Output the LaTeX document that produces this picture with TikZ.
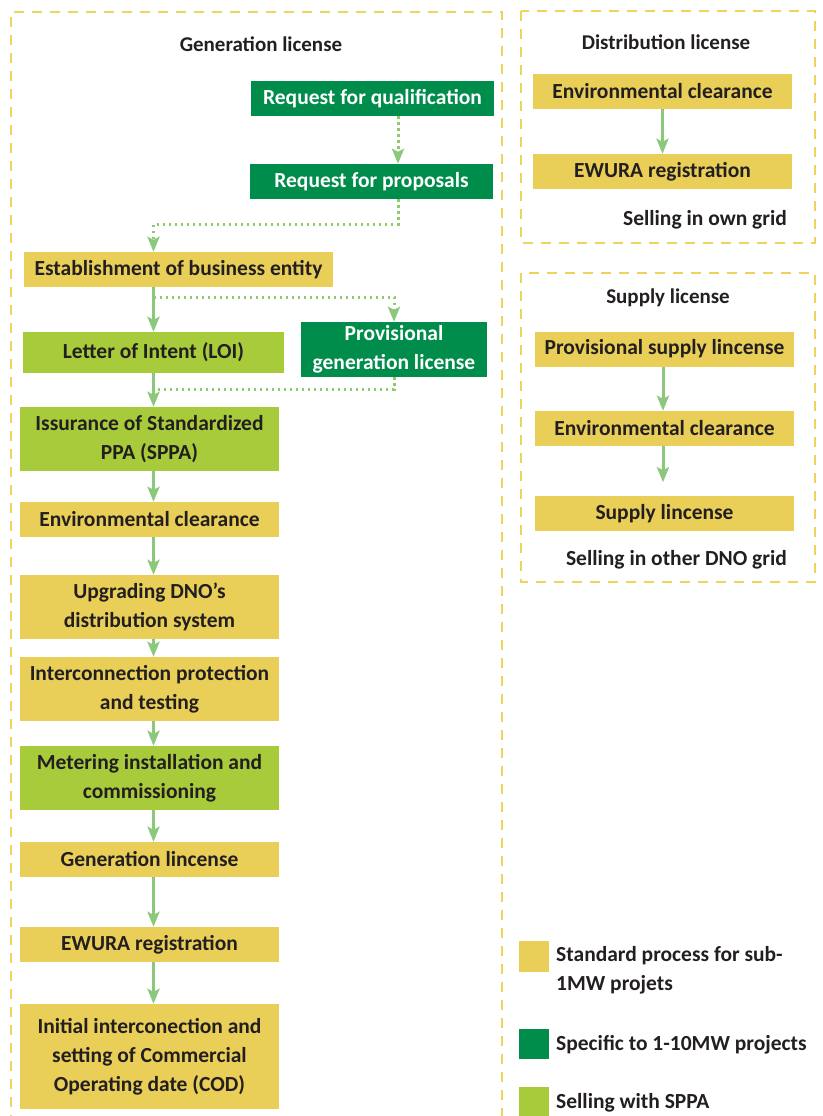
\documentclass[tikz,border=0pt]{standalone}
\usepackage{fontspec}
\setmainfont{Carlito}
\usetikzlibrary{arrows.meta,positioning}

\definecolor{ylw}{HTML}{E9CF58}
\definecolor{dgrn}{HTML}{008D4C}
\definecolor{lgrn}{HTML}{A8CB3B}
\definecolor{arr}{HTML}{8CC87C}
\definecolor{dots}{HTML}{8FCB6A}
\definecolor{brd}{HTML}{EED45E}
\definecolor{ink}{HTML}{231F20}

\begin{document}
\begin{tikzpicture}[x=1pt,y=-1pt,
    box/.style={minimum width=259pt, minimum height=35pt, inner sep=0pt, align=center,
      font=\fontsize{21.5}{29}\selectfont\bfseries, text=ink},
    ybox/.style={box, fill=ylw},
    dgbox/.style={box, fill=dgrn, text=white},
    lgbox/.style={box, fill=lgrn},
    ttl/.style={inner sep=0pt, anchor=base, text=ink, font=\fontsize{21}{24}\selectfont\bfseries},
    note/.style={inner sep=0pt, text=ink, align=left, font=\fontsize{21.5}{29}\selectfont\bfseries},
    flow/.style={arr, line width=3pt, -{Stealth[length=15pt, width=12pt, inset=3pt]}},
    opt/.style={dots, line width=3pt, dash pattern=on 2.5pt off 3.5pt},
    optarr/.style={opt, -{Stealth[length=15pt, width=12pt, inset=3pt, color=arr]}},
    frame/.style={brd, line width=2.5pt, dash pattern=on 10pt off 8pt}
  ]
  \useasboundingbox (0,0) rectangle (822,1116);

  % Rahmen
  \draw[frame] (11,1125) -- (11,12) -- (502,12) -- (502,1125);
  \draw[frame] (521,11) rectangle (815,243);
  \draw[frame] (521,273) rectangle (815,582);

  % Generation license
  \node[ttl] (gentitle) at (261,52) {Generation license};
  \node[dgbox, minimum width=243pt] (rfq) at (372.5,98.5) {Request for qualification};
  \node[dgbox, minimum width=243pt] (rfp) at (371.5,181.5) {Request for proposals};
  \node[ybox, minimum width=309pt] (estab) at (178.5,269.5) {Establishment of business entity};
  \node[lgbox, minimum width=261pt, minimum height=41pt] (loi) at (153.5,352.5) {Letter of Intent (LOI)};
  \node[dgbox, minimum width=186pt, minimum height=55pt] (provgen) at (394,349.5) {Provisional\\generation license};
  \node[lgbox, minimum height=64pt] (sppa) at (149.5,439) {Issurance of Standardized\\PPA (SPPA)};
  \node[ybox] (envgen) at (149.5,519.5) {Environmental clearance};
  \node[ybox, minimum height=64pt] (upgrade) at (149.5,607) {Upgrading DNO{\char"0027}s\\distribution system};
  \node[ybox, minimum height=64pt] (intercon) at (149.5,689) {Interconnection protection\\and testing};
  \node[lgbox, minimum height=64pt] (meter) at (149.5,778) {Metering installation and\\commissioning};
  \node[ybox] (genlic) at (149.5,859.5) {Generation lincense};
  \node[ybox] (ewura) at (149.5,944.5) {EWURA registration};
  \node[ybox, minimum height=105pt] (cod) at (149.5,1056.5) {Initial interconection and\\setting of Commercial\\Operating date (COD)};

  % optionale Schritte (gepunktet)
  \coordinate (tap) at (398,0);
  \draw[optarr] (rfq.south -| tap) -- (rfp.north -| tap);
  \draw[optarr] (rfp.south -| tap) -- ++(0,25) -| (estab.north -| loi.north);
  \draw[optarr] (estab.south -| loi.north) ++(0,10) -| (provgen.north);
  \draw[opt] (provgen.south) |- ([yshift=-16pt]loi.south);

  % Hauptpfad
  \draw[flow] (estab.south -| loi.north) -- (loi.north);
  \draw[flow] (loi.south) -- (loi.south |- sppa.north);
  \foreach \a/\b in {sppa/envgen, envgen/upgrade, upgrade/intercon, intercon/meter,
                     meter/genlic, genlic/ewura, ewura/cod}
    \draw[flow] (\a.south -| loi.south) -- (\b.north -| loi.south);

  % Distribution license
  \node[ttl] (disttitle) at (666,49) {Distribution license};
  \node[ybox] (distenv) at (662.5,91.5) {Environmental clearance};
  \node[ybox] (distewura) at (662.5,171.5) {EWURA registration};
  \node[note, anchor=base east] (distnote) at (787,225) {Selling in own grid};
  \draw[flow] (distenv) -- (distewura);

  % Supply license
  \node[ttl] (suptitle) at (668,303) {Supply license};
  \node[ybox] (supprov) at (664.5,349) {Provisional supply lincense};
  \node[ybox] (supenv) at (664.5,428.5) {Environmental clearance};
  \node[ybox] (suplic) at (664.5,513.5) {Supply lincense};
  \node[note, anchor=base east] (supnote) at (787,565) {Selling in other DNO grid};
  \draw[flow] (supprov.south -| 663,0) -- (supenv.north -| 663,0);
  \draw[flow] (supenv.south -| 663,0) -- ++(0,36);

  % Legende
  \node[fill=ylw, minimum width=30pt, minimum height=31pt, inner sep=0pt] (keyS) at (534,956.5) {};
  \node[note, anchor=west] (keySt) at (556,970) {Standard process for sub-\\1MW projets};
  \node[fill=dgrn, minimum width=30pt, minimum height=30pt, inner sep=0pt] (keyD) at (534,1044) {};
  \node[note, anchor=base west] (keyDt) at (556,1050) {Specific to 1-10MW projects};
  \node[fill=lgrn, minimum width=30pt, minimum height=30pt, inner sep=0pt] (keyL) at (534,1102) {};
  \node[note, anchor=base west] (keyLt) at (556,1108) {Selling with SPPA};
\end{tikzpicture}
\end{document}
